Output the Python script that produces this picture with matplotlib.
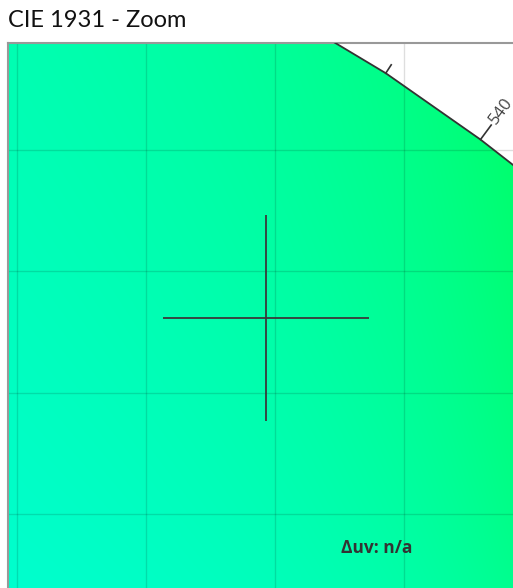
#!/usr/bin/env python3
"""CIE 1931 xy chromaticity diagram, zoomed on a single target point."""

import numpy as np
import matplotlib

matplotlib.use("Agg")
import matplotlib.pyplot as plt
from matplotlib.path import Path as MplPath
from matplotlib.patches import PathPatch

# CIE 1931 2-degree spectral locus (wavelength nm, x, y)
LOCUS_NM = [380, 460, 470, 480, 490, 500, 505, 510, 515, 520, 525, 530, 535, 540,
            545, 550, 555, 560, 570, 580, 600, 620, 700]
LOCUS_X = [0.1741, 0.1440, 0.1241, 0.0913, 0.0454, 0.0082, 0.0039, 0.0139, 0.0389,
           0.0743, 0.1142, 0.1547, 0.1929, 0.2296, 0.2658, 0.3016, 0.3373, 0.3731,
           0.4441, 0.5125, 0.6270, 0.6915, 0.7347]
LOCUS_Y = [0.0050, 0.0297, 0.0578, 0.1327, 0.2950, 0.5384, 0.6548, 0.7502, 0.8120,
           0.8338, 0.8262, 0.8059, 0.7816, 0.7543, 0.7243, 0.6923, 0.6589, 0.6245,
           0.5547, 0.4866, 0.3725, 0.3083, 0.2653]
LABELLED_NM = [540]

TARGET_X = [0.1464]
TARGET_Y = [0.6807]
DELTA_UV = "n/a"

X_LIM = (0.04651, 0.2422)
Y_LIM = (0.56975, 0.79403)
GRID_X = [0.05, 0.10, 0.15, 0.20]
GRID_Y = [0.60, 0.65, 0.70, 0.75]


def xy_to_rgb(x, y):
    z = 1.0 - x - y
    X = x / y
    Z = z / y
    r = 3.2406 * X - 1.5372 - 0.4986 * Z
    g = -0.9689 * X + 1.8758 + 0.0415 * Z
    b = 0.0557 * X - 0.2040 + 1.0570 * Z
    rgb = np.stack([r, g, b], axis=-1)
    rgb = rgb - np.minimum(rgb.min(axis=-1, keepdims=True), 0)
    rgb = rgb / rgb.max(axis=-1, keepdims=True)
    enc = np.where(rgb <= 0.0031308, 12.92 * rgb, 1.055 * np.power(rgb, 1 / 2.4) - 0.055)
    return np.clip(enc, 0, 1)


fig = plt.figure(figsize=(5.13, 5.88), dpi=100)
ax = fig.add_axes([8 / 513, 0.0, 505 / 513, 545 / 588])
ax.set_xlim(*X_LIM)
ax.set_ylim(*Y_LIM)

# colour fill, clipped to the spectral locus
gx = np.linspace(X_LIM[0], X_LIM[1], 300)
gy = np.linspace(Y_LIM[0], Y_LIM[1], 300)
mx, my = np.meshgrid(gx, gy)
img = xy_to_rgb(mx, my)
im = ax.imshow(img, extent=(X_LIM[0], X_LIM[1], Y_LIM[0], Y_LIM[1]), origin="lower",
               aspect="auto", interpolation="bilinear", zorder=1)
locus_path = MplPath(np.column_stack([LOCUS_X + [LOCUS_X[0]], LOCUS_Y + [LOCUS_Y[0]]]))
clip_patch = PathPatch(locus_path, transform=ax.transData, facecolor="none", edgecolor="none")
ax.add_patch(clip_patch)
im.set_clip_path(clip_patch)

# grid on top, semi-transparent
for gxv in GRID_X:
    ax.axvline(gxv, color="black", alpha=0.13, linewidth=1.0, zorder=2)
for gyv in GRID_Y:
    ax.axhline(gyv, color="black", alpha=0.13, linewidth=1.0, zorder=2)

ax.plot(LOCUS_X, LOCUS_Y, color="#333333", linewidth=1.3, zorder=3)

# wavelength ticks, perpendicular to the locus in display space
to_disp = ax.transData
to_data = ax.transData.inverted()
pts = to_disp.transform(np.column_stack([LOCUS_X, LOCUS_Y]))
for i, nm in enumerate(LOCUS_NM):
    if i == 0 or i == len(LOCUS_NM) - 1:
        continue
    d = pts[i + 1] - pts[i - 1]
    d = d / np.hypot(*d)
    n = np.array([-d[1], d[0]])
    labelled = nm in LABELLED_NM
    length = 18 if labelled else 10
    p0 = pts[i]
    p1 = pts[i] + n * length
    q = to_data.transform(np.vstack([p0, p1]))
    ax.plot(q[:, 0], q[:, 1], color="#333333", linewidth=1.2, zorder=3)
    if labelled:
        pl = to_data.transform(pts[i] + n * (length + 3))
        ang = np.degrees(np.arctan2(n[1], n[0]))
        ax.text(pl[0], pl[1], str(nm), rotation=ang, ha="left", va="center",
                rotation_mode="anchor", fontsize=12, color="#444444",
                family=["Open Sans", "DejaVu Sans"], zorder=4)

ax.plot(TARGET_X, TARGET_Y, marker="+", markersize=148, markeredgewidth=1.3,
        color="#3a3a3a", linestyle="none", zorder=4)

ax.text(0.7307, 0.0734, f"\u0394uv: {DELTA_UV}", transform=ax.transAxes, ha="center",
        va="center", fontsize=12.5, fontweight="bold", color="#333333",
        family=["Open Sans", "DejaVu Sans"], zorder=5)

ax.set_xticks([])
ax.set_yticks([])
for side in ("left", "top"):
    ax.spines[side].set_color("#999999")
    ax.spines[side].set_linewidth(1.5)
ax.spines["right"].set_visible(False)
ax.spines["bottom"].set_visible(False)

fig.text(8 / 513, 1 - 27 / 588, "CIE 1931 - Zoom", ha="left", va="baseline",
         fontsize=17, color="#111111", family=["Lato", "DejaVu Sans"])

fig.savefig("out.png", dpi=100)
